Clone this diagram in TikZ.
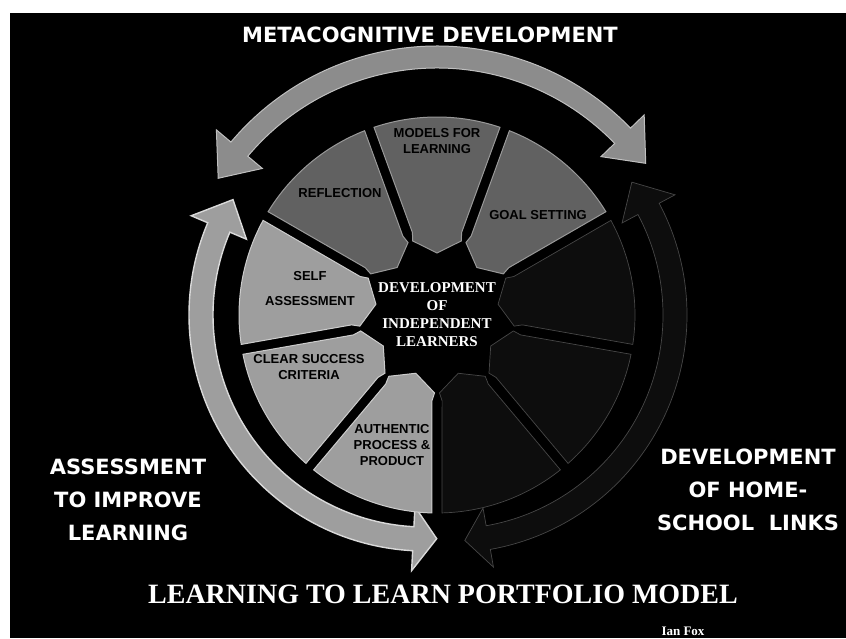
\documentclass[tikz,border=0pt]{standalone}
\usepackage{fontspec}
\newfontfamily\handfont{DejaVu Sans}
\newfontfamily\titlefont{Liberation Serif}
\newfontfamily\segfont{Liberation Sans}

\colorlet{metafill}{black!62}
\colorlet{assessfill}{black!38}
\colorlet{homefill}{black!95}
\colorlet{homeline}{black!72}
\colorlet{bandfill}{black!45}

\tikzset{
  seglabel/.style={font=\segfont\bfseries\fontsize{13}{16}\selectfont, align=center, text=black},
  sidelabel/.style={font=\handfont\bfseries\fontsize{21}{33}\selectfont, align=center, text=white},
  hublabel/.style={font=\titlefont\bfseries\fontsize{15}{18}\selectfont, align=center, text=white}
}

% one block of the wheel, pointing in to the hub
\newcommand{\wedgepath}[1]{(#1-16.6:86) -- (#1-18.55:198) arc[start angle=#1-18.55, end angle=#1+18.55, radius=198] -- (#1+16.6:86) -- (#1+18.2:78) -- (#1:62) -- (#1-18.2:78) -- cycle}

\begin{document}
\begin{tikzpicture}[x=1pt,y=1pt]
  \useasboundingbox (0,0) rectangle (846,638);
  \fill[black] (10,0) rectangle (846,625);

  % home-school links (very faint in the scan)
  \begin{scope}[shift={(449,323)}]
    \filldraw[fill=homefill, draw=homeline, line width=0.7] (36:226) -- (28:196) -- (28:214) arc[start angle=28, end angle=-80, radius=214] -- (-80:196) -- (-86:226) -- (-80:256) -- (-80:238) arc[start angle=-80, end angle=28, radius=238] -- (28:256) -- cycle;
  \end{scope}

  % metacognitive development
  \begin{scope}[shift={(437,323)}]
    \filldraw[fill=bandfill, draw=black!25, line width=1] (148:258) -- (140:228) -- (140:247) arc[start angle=140, end angle=44, radius=247] -- (44:228) -- (36:258) -- (44:288) -- (44:269) arc[start angle=44, end angle=140, radius=269] -- (140:288) -- cycle;
  \end{scope}

  % assessment to improve learning
  \begin{scope}[shift={(425,323)}]
    \filldraw[fill=assessfill, draw=black!15, line width=1.4] (149:224) -- (157:254) -- (157:236) arc[start angle=157, end angle=267, radius=236] -- (267:256) -- (273:224) -- (267:192) -- (267:212) arc[start angle=267, end angle=157, radius=212] -- (157:194) -- cycle;
  \end{scope}

  % the wheel
  \begin{scope}[shift={(437,323)}]
    \foreach \a in {90,50,130}
      \filldraw[fill=metafill, draw=black!40, line width=1] \wedgepath{\a};
    \foreach \a in {170,-150,-110}
      \filldraw[fill=assessfill, draw=black!20, line width=1] \wedgepath{\a};
    \foreach \a in {10,-30,-70}
      \filldraw[fill=homefill, draw=homeline, line width=0.7] \wedgepath{\a};
  \end{scope}

  \node[seglabel] (models) at (437,497) {MODELS FOR\\LEARNING};
  \node[seglabel] (goal) at (538,423) {GOAL SETTING};
  \node[seglabel] (reflection) at (340,445) {REFLECTION};
  \node[seglabel, font=\segfont\bfseries\fontsize{13}{25}\selectfont] (self) at (310,349) {SELF\\ASSESSMENT};
  \node[seglabel] (criteria) at (309,271) {CLEAR SUCCESS\\CRITERIA};
  \node[seglabel] (authentic) at (392,193) {AUTHENTIC\\PROCESS \&\\PRODUCT};

  \node[hublabel] (hub) at (437,323) {DEVELOPMENT\\OF\\INDEPENDENT\\LEARNERS};

  \node[sidelabel] (meta) at (430,603) {METACOGNITIVE DEVELOPMENT};
  \node[sidelabel] (assess) at (128,138) {ASSESSMENT\\TO IMPROVE\\LEARNING};
  \node[sidelabel] (home) at (748,148) {DEVELOPMENT\\OF HOME-\\SCHOOL\ \ LINKS};

  \node[font=\titlefont\bfseries\fontsize{28}{30}\selectfont, text=white] (title) at (443,44) {LEARNING TO LEARN PORTFOLIO MODEL};
  \node[font=\titlefont\bfseries\fontsize{13}{14}\selectfont, text=white] (author) at (683,7) {Ian Fox};
\end{tikzpicture}
\end{document}
